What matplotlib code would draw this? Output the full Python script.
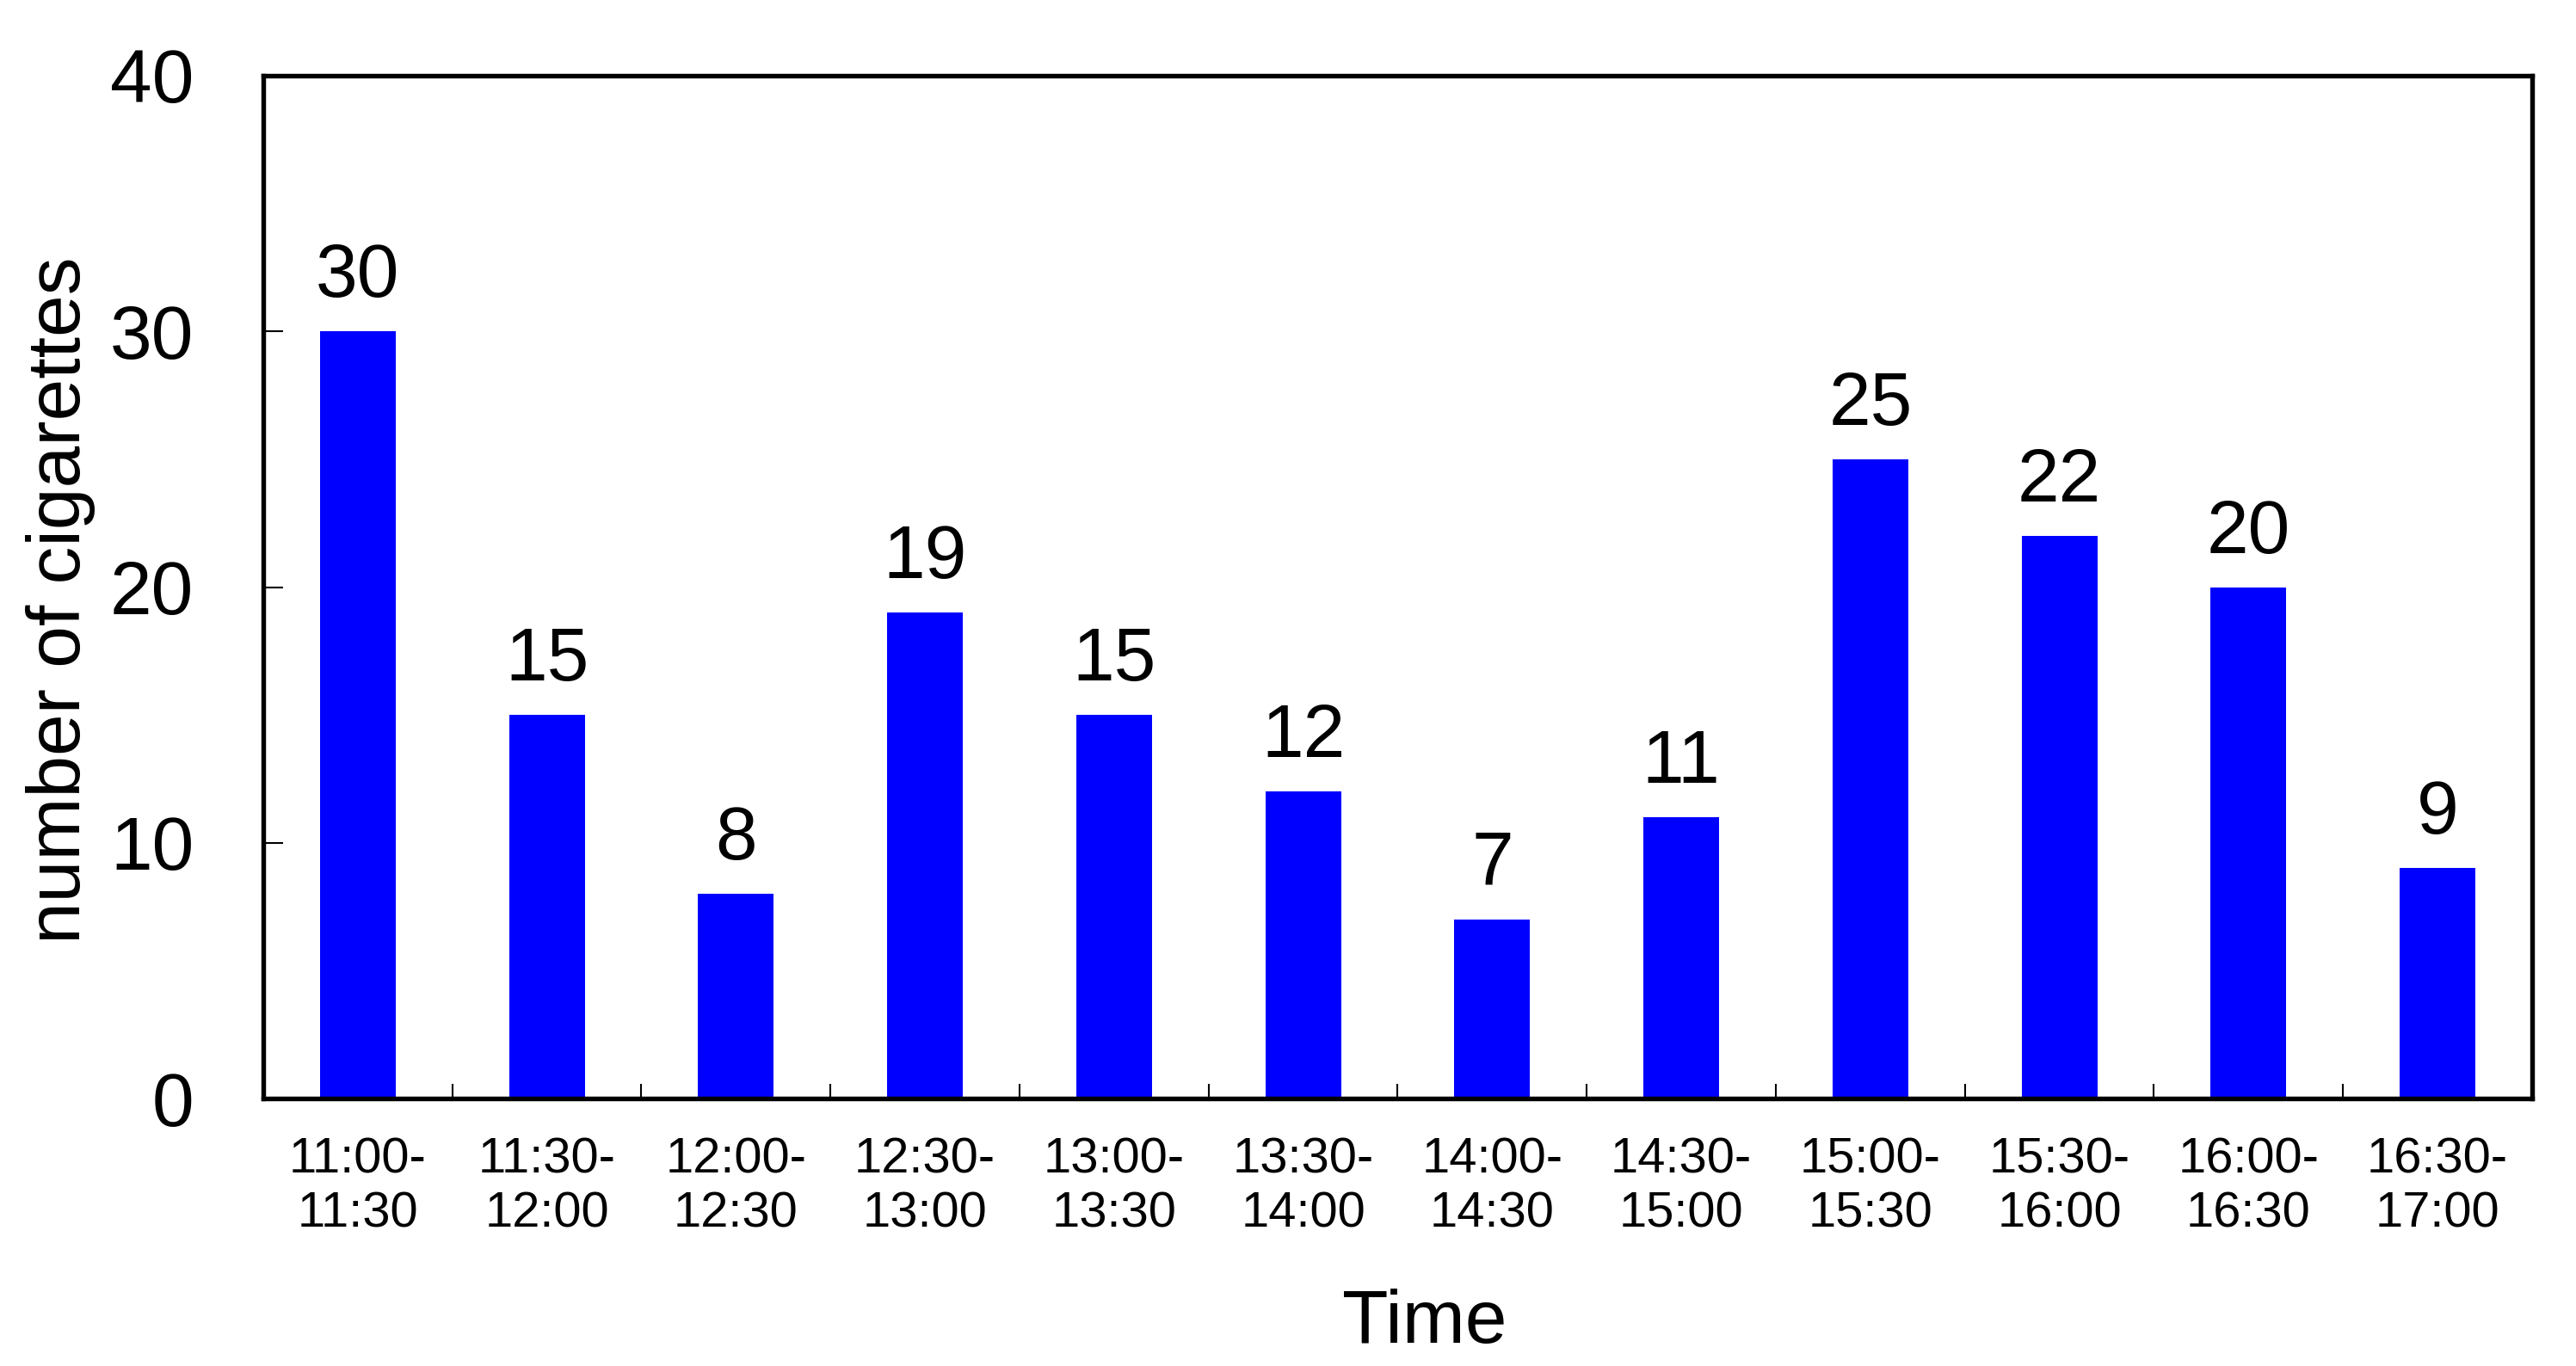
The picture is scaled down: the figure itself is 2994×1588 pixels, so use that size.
import matplotlib
matplotlib.use("Agg")
import matplotlib.pyplot as plt
import numpy as np

plt.rcParams["font.family"] = ["Liberation Sans", "DejaVu Sans"]

time_slots = ["11:00-\n11:30", "11:30-\n12:00", "12:00-\n12:30", "12:30-\n13:00",
              "13:00-\n13:30", "13:30-\n14:00", "14:00-\n14:30", "14:30-\n15:00",
              "15:00-\n15:30", "15:30-\n16:00", "16:00-\n16:30", "16:30-\n17:00"]
cigarettes = [30, 15, 8, 19, 15, 12, 7, 11, 25, 22, 20, 9]
y_ticks = [0, 10, 20, 30, 40]

DPI = 300
fig = plt.figure(figsize=(2995 / DPI, 1588 / DPI), dpi=DPI)
# axes box in pixels: left 306, right 2943, top 88, bottom 1277
ax = fig.add_axes([306 / 2995, 1 - 1277 / 1588, (2943 - 306) / 2995, (1277 - 88) / 1588])

x = np.arange(len(cigarettes))
ax.bar(x, cigarettes, width=0.4, color="#0000ff", zorder=2)

for xi, v in zip(x, cigarettes):
    ax.annotate(str(v), (xi, v), xytext=(0, 9.6), textcoords="offset points",
                ha="center", va="baseline", fontsize=21)

ax.set_xlim(-0.5, len(cigarettes) - 0.5)
ax.set_ylim(0, 40)
ax.set_yticks(y_ticks)
ax.tick_params(axis="y", direction="in", length=5.5, width=0.5, labelsize=21, pad=19.4)

# ticks sit between bars, labels under bars
ax.set_xticks(x[:-1] + 0.5)
ax.set_xticklabels([])
ax.set_xticks(x, minor=True)
ax.set_xticklabels(time_slots, minor=True, fontsize=13.9)
ax.tick_params(axis="x", which="major", direction="in", length=4, width=0.5)
ax.tick_params(axis="x", which="minor", length=0, pad=10.8)

for s in ax.spines.values():
    s.set_linewidth(1.3)

ax.set_xlabel("Time", fontsize=21)
ax.xaxis.set_label_coords(0.512, -0.186)
ax.set_ylabel("number of cigarettes", fontsize=21)
ax.yaxis.set_label_coords(-0.074, 0.487)

fig.savefig("out.png", dpi=DPI)
